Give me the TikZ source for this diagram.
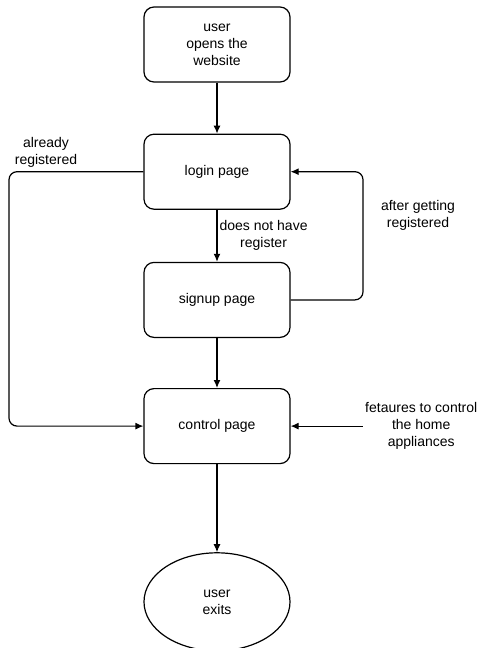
\documentclass[tikz,border=0pt]{standalone}
\usepackage{fontspec}
\setmainfont{Liberation Sans}
\usetikzlibrary{positioning, shapes.geometric, graphs, arrows.meta}

\begin{document}
\begin{tikzpicture}[x=1pt, y=1pt, line width=1.2pt,
    font=\fontsize{14}{17}\selectfont,
    >={Latex[length=8pt, width=7pt]},
    pagebox/.style={draw, rounded corners=10pt, minimum width=146pt, minimum height=75pt, align=center},
    endbox/.style={draw, ellipse, minimum width=146pt, minimum height=98pt, align=center},
    labeltext/.style={align=center, inner sep=2pt}]
    \useasboundingbox (0,0) rectangle (482,-648);

    \node[pagebox] (open) at (217,-44.5) {user\\opens the\\website};
    \node[pagebox, below=51pt of open] (login) {login page};
    \node[pagebox, below=52pt of login] (signup) {signup page};
    \node[pagebox, below=50pt of signup] (control) {control page};
    \node[endbox, below=88pt of control] (exit) {user\\exits};

    \node[labeltext] (already) at (46,-152.5) {already\\registered};
    \node[labeltext] (after) at (418,-215.5) {after getting\\registered};
    \node[labeltext, right=72pt of control] (features) {fetaures to control\\the home\\appliances};

    \coordinate (leftturn) at (9,0);
    \coordinate (rightturn) at (363,0);

    \graph{
        (open) -> (login) ->[edge node={node[labeltext, right] {does not have\\register}}] (signup) -> (control) -> (exit);
    };

    \draw[->, rounded corners=8pt] (login.west) -- (login.west -| leftturn) |- (control.west);
    \draw[->, rounded corners=8pt] (signup.east) -- (signup.east -| rightturn) |- (login.east);
    \draw[->] (features.west) -- (control.east);
\end{tikzpicture}
\end{document}
